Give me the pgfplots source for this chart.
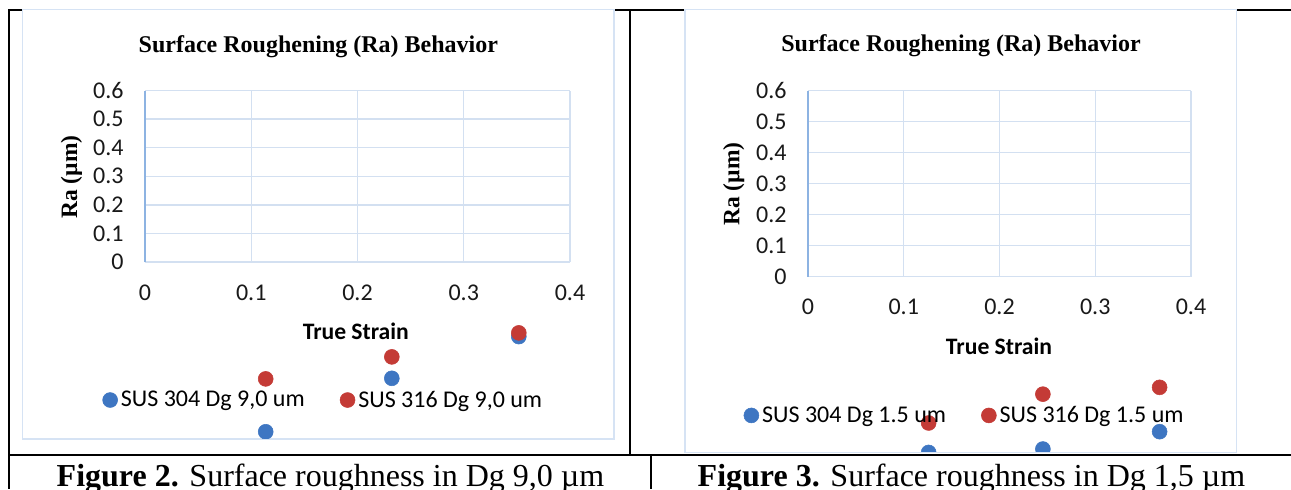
\documentclass[border=0pt]{standalone}
\usepackage{pgfplots}
\pgfplotsset{compat=1.18}
\usepackage{fontspec}
\setmainfont{Liberation Serif}
\newfontfamily\carlito{Carlito}
\definecolor{gridblue}{HTML}{D3E0F1}
\definecolor{axisblue}{HTML}{8DB3E2}
\definecolor{frameblue}{HTML}{D6E3F4}
\definecolor{ptblue}{HTML}{3E76C2}
\definecolor{ptred}{HTML}{C43B36}
\newcommand{\sfs}{\carlito\fontsize{18}{21}\selectfont}

\pgfplotsset{mystyle/.style={
  scale only axis, anchor=south west,
  xmin=0,xmax=0.4,ymin=0,ymax=0.6,
  xtick={0,0.1,0.2,0.3,0.4}, ytick={0,0.1,0.2,0.3,0.4,0.5,0.6},
  grid=major, major grid style={draw=gridblue, line width=1.1pt},
  axis lines*=left,
  x axis line style={draw=gridblue, line width=1.1pt},
  y axis line style={draw=axisblue, line width=1.1pt},
  major tick length=0pt,
  /pgf/number format/assume math mode=true,
  tick label style={font=\sfs, text=black!90},
  yticklabel style={xshift=-12.5pt},
  xticklabel style={yshift=-13.5pt},
  xlabel={True Strain}, ylabel={Ra (µm)},
  title={Surface Roughening (Ra) Behavior},
  every axis title/.style={font=\bfseries\fontsize{18}{20}\selectfont, anchor=center},
  xlabel style={font=\carlito\bfseries\fontsize{17.7}{21}\selectfont, anchor=center},
  ylabel style={font=\bfseries\fontsize{17.6}{20}\selectfont, anchor=center},
  clip=false,
  legend columns=2,
  legend cell align=left,
  legend style={draw=none, fill=none, font=\sfs, anchor=west, inner sep=0pt,
    nodes={inner xsep=2.5pt, inner ysep=1pt},
    /tikz/every even column/.append style={column sep=24pt}},
  legend image code/.code={\draw[#1] plot coordinates {(0pt,0pt)};},
}}

\begin{document}
\begin{tikzpicture}
\path[use as bounding box] (0,0) rectangle (968.25pt,-366.75pt);
\begin{scope}[x=0.75pt,y=-0.75pt]
  \draw[line width=1.5pt] (8,10) -- (1291,10);
  \draw[line width=1.5pt] (9,9) -- (9,489);
  \draw[line width=1.5pt] (630,10) -- (630,454.5);
  \draw[line width=1.5pt] (8,454.5) -- (1291,454.5);
  \draw[line width=1.5pt] (651,454.5) -- (651,489);
  \filldraw[fill=white, draw=frameblue, line width=1.1pt] (22.5,9.5) rectangle (614,439);
  \filldraw[fill=white, draw=frameblue, line width=1.1pt] (685,9.5) rectangle (1236.5,452.5);
  \node[anchor=base] at (330.5,486) {\fontsize{24}{28}\selectfont\textbf{Figure 2.} Surface roughness in Dg 9,0 µm};
  \node[anchor=base] at (971.5,486) {\fontsize{24}{28}\selectfont\textbf{Figure 3.} Surface roughness in Dg 1,5 µm};
\end{scope}

\begin{scope}
\clip (17.5pt,-8.5pt) rectangle (459.8pt,-328.6pt);
\begin{axis}[mystyle, at={(108.75pt,-196.5pt)}, width=318.75pt, height=128.6pt,
  title style={at={(0.408,1.256)}},
  xlabel style={at={(0.496,-0.405)}},
  ylabel style={at={(-0.173,0.496)}},
  legend style={at={(-0.1002,-0.805)}}]
\addplot[only marks, mark=*, mark size=5.6pt, color=ptblue] coordinates {(0.1136,-0.594) (0.2323,-0.407) (0.3518,-0.261)};
\addlegendentry{SUS 304 Dg 9,0 um}
\addplot[only marks, mark=*, mark size=5.6pt, color=ptred] coordinates {(0.1136,-0.409) (0.2323,-0.332) (0.3518,-0.248)};
\addlegendentry{SUS 316 Dg 9,0 um}
\end{axis}
\end{scope}

\begin{scope}
\clip (514.5pt,-8.5pt) rectangle (926.6pt,-338.6pt);
\begin{axis}[mystyle, at={(606pt,-207.5pt)}, width=287.25pt, height=139.5pt,
  title style={at={(0.3995,1.240)}},
  xlabel style={at={(0.4987,-0.3726)}},
  ylabel style={at={(-0.194,0.497)}},
  legend style={at={(-0.168,-0.746)}}]
\addplot[only marks, mark=*, mark size=5.6pt, color=ptblue] coordinates {(0.126,-0.567) (0.2453,-0.556) (0.3672,-0.500)};
\addlegendentry{SUS 304 Dg 1.5 um}
\addplot[only marks, mark=*, mark size=5.6pt, color=ptred] coordinates {(0.126,-0.472) (0.2453,-0.379) (0.3672,-0.357)};
\addlegendentry{SUS 316 Dg 1.5 um}
\end{axis}
\end{scope}
\end{tikzpicture}
\end{document}
